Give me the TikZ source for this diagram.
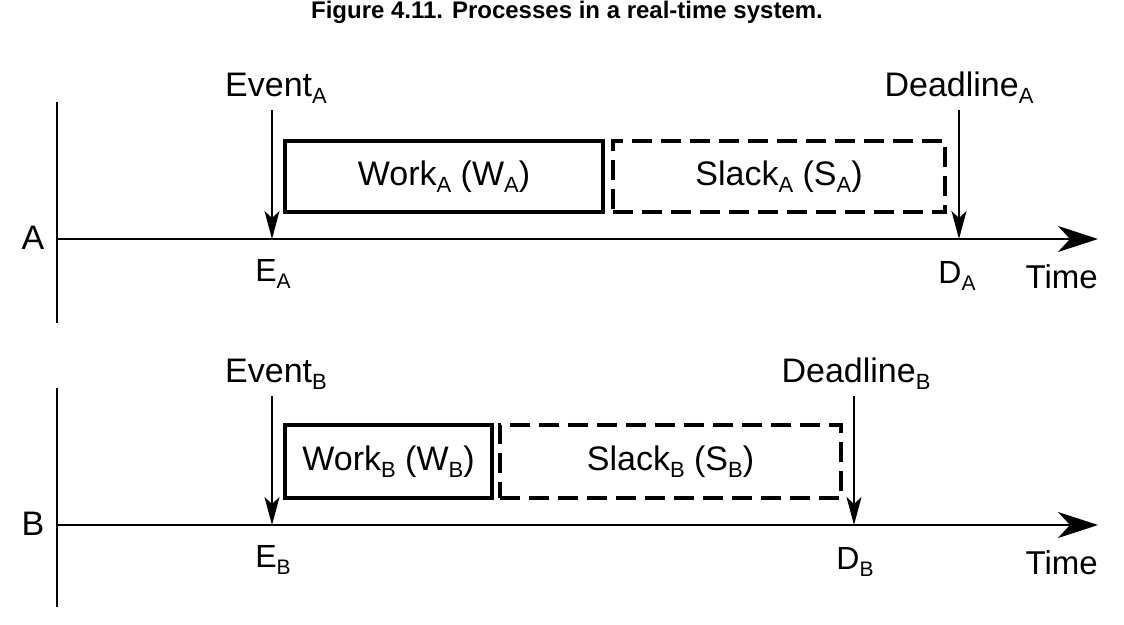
\documentclass[tikz,border=0pt]{standalone}
\usepackage{fontspec}
\setmainfont{Liberation Sans}
\usetikzlibrary{arrows.meta}
\newcommand{\lsub}[2][22]{\raisebox{-0.22em}{\fontsize{#1}{#1}\selectfont #2}}

\begin{document}
\begin{tikzpicture}[x=1pt,y=-1pt,
  lbl/.style={font=\fontsize{34}{40}\selectfont, inner sep=0pt},
  smalllbl/.style={font=\fontsize{32}{38}\selectfont, inner sep=0pt, anchor=base},
  timelbl/.style={font=\fontsize{33}{38}\selectfont, inner sep=0pt, anchor=base east},
  side/.style={line width=2.6pt},
  axis/.style={line width=2.6pt, -{Stealth[length=40pt,width=26pt,inset=12pt]}},
  evarrow/.style={line width=1.8pt, -{Stealth[length=28pt,width=15pt,inset=7pt]}},
  workbox/.style={draw, line width=4pt, inner sep=0pt, font=\fontsize{34}{40}\selectfont},
  slackbox/.style={workbox, dash pattern=on 20pt off 9pt}]
  \useasboundingbox (0,0) rectangle (1124,624);
  % Title
  \node[font=\bfseries\fontsize{24}{28}\selectfont] (title) at (567,12)
    {Figure 4.11. Processes in a real-time system.};

  % Process A
  \coordinate (topA) at (57,102);
  \coordinate (botA) at (57,323);
  \coordinate (oA) at (57,239);
  \coordinate (endA) at (1098,239);
  \coordinate (EA) at (272,239);
  \coordinate (DA) at (959,239);
  \coordinate (evAstart) at (272,110);
  \coordinate (dlAstart) at (959,110);
  \node[lbl] (labA) at (33,238) {A};
  \draw[side] (topA) -- (botA);
  \draw[axis] (oA) -- (endA);
  \node[lbl, anchor=base] (evA) at (276,96) {Event\lsub{A}};
  \node[lbl, anchor=base] (dlA) at (959,96) {Deadline\lsub{A}};
  \draw[evarrow] (evAstart) -- (EA); % event arrives
  \draw[evarrow] (dlAstart) -- (DA); % deadline
  \node[workbox, minimum width=318pt, minimum height=71pt] (workA) at (444,176.5)
    {Work\lsub{A} (W\lsub{A})};
  \node[slackbox, minimum width=332pt, minimum height=71pt] (slackA) at (779,176.5)
    {Slack\lsub{A} (S\lsub{A})};
  \node[smalllbl] (eA) at (273,281) {E\lsub[21]{A}};
  \node[smalllbl] (dA) at (957,283) {D\lsub[21]{A}};
  \node[timelbl] (timeA) at (1098,288) {Time};

  % Process B
  \coordinate (topB) at (57,388);
  \coordinate (botB) at (57,607);
  \coordinate (oB) at (57,525);
  \coordinate (endB) at (1098,525);
  \coordinate (EB) at (272,525);
  \coordinate (DB) at (854,525);
  \coordinate (evBstart) at (272,396);
  \coordinate (dlBstart) at (854,396);
  \node[lbl] (labB) at (33,524) {B};
  \draw[side] (topB) -- (botB);
  \draw[axis] (oB) -- (endB);
  \node[lbl, anchor=base] (evB) at (276,382) {Event\lsub{B}};
  \node[lbl, anchor=base] (dlB) at (856,382) {Deadline\lsub{B}};
  \draw[evarrow] (evBstart) -- (EB); % event arrives
  \draw[evarrow] (dlBstart) -- (DB); % deadline
  \node[workbox, minimum width=207pt, minimum height=73pt] (workB) at (388.5,461.5)
    {Work\lsub{B} (W\lsub{B})};
  \node[slackbox, minimum width=341pt, minimum height=73pt] (slackB) at (670.5,461.5)
    {Slack\lsub{B} (S\lsub{B})};
  \node[smalllbl] (eB) at (273,567) {E\lsub[21]{B}};
  \node[smalllbl] (dB) at (855,569) {D\lsub[21]{B}};
  \node[timelbl] (timeB) at (1098,574) {Time};
\end{tikzpicture}
\end{document}
